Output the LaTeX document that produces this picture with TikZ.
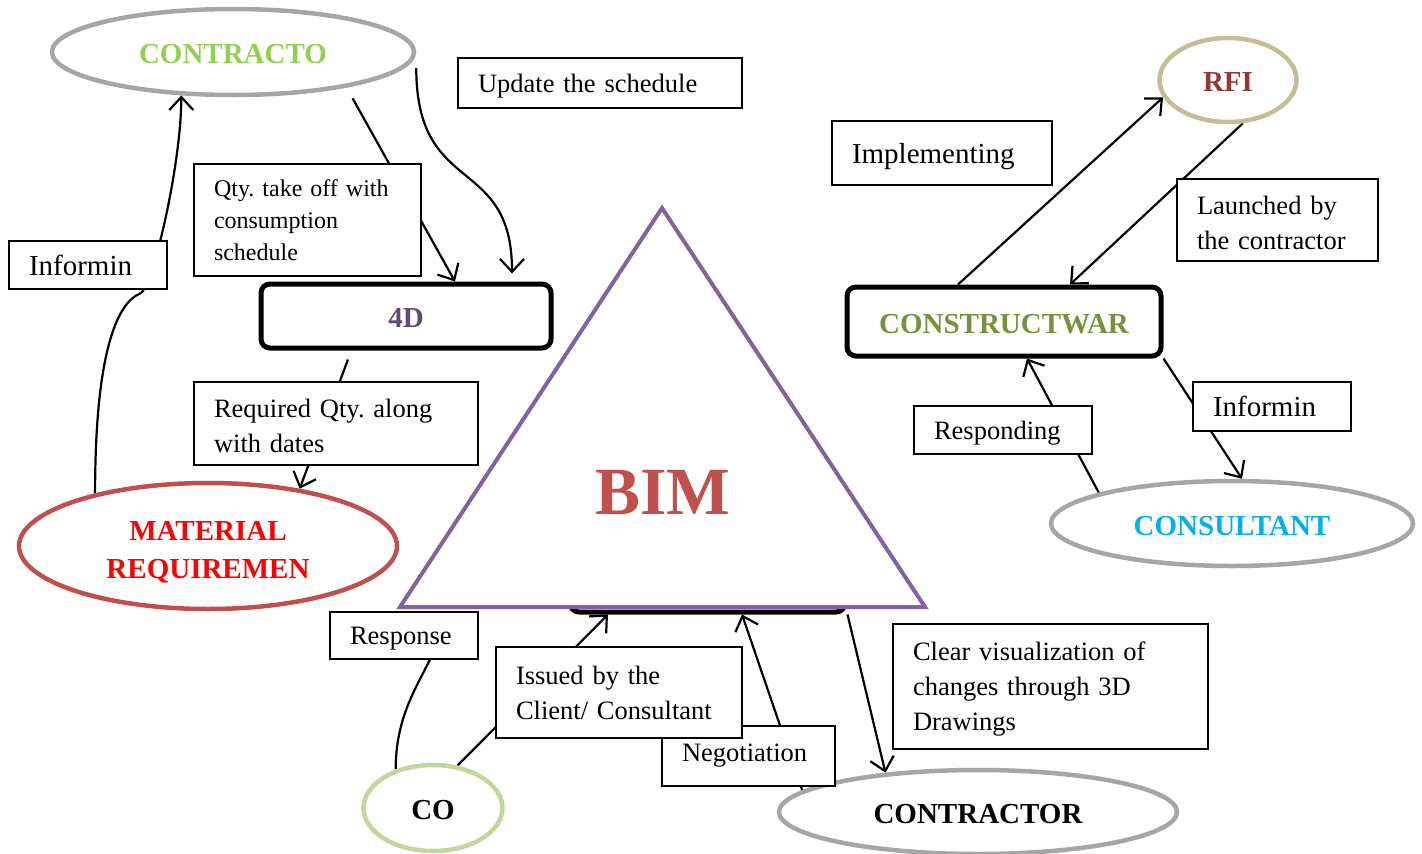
\documentclass[tikz,border=0pt]{standalone}
\usepackage{fontspec}
\setmainfont{Liberation Serif}
\usetikzlibrary{shapes.geometric,arrows.meta}
\pgfdeclarelayer{bg}
\pgfsetlayers{bg,main}
\definecolor{ellgray}{HTML}{A6A6A6}
\definecolor{ctrgreen}{HTML}{92D050}
\definecolor{matred}{HTML}{C0504D}
\definecolor{tripurple}{HTML}{8064A2}
\definecolor{fdpurple}{HTML}{5F497A}
\definecolor{cogreen}{HTML}{C3D69B}
\definecolor{rfiring}{HTML}{C4BD97}
\definecolor{rfitext}{HTML}{953734}
\definecolor{cwgreen}{HTML}{76923C}
\definecolor{conblue}{HTML}{00B0F0}
\newcommand\myLbl{\fontsize{26.5}{35}\selectfont}
\newcommand\myBig{\fontsize{29}{35}\selectfont}
\newcommand\mySmall{\fontsize{24}{32}\selectfont}
\newcommand\myBold{\bfseries\fontsize{29}{38}\selectfont}
\newcommand\myBim{\bfseries\fontsize{67.5}{70}\selectfont}
\newcommand\topstrut{\rule{0pt}{24pt}}
\frenchspacing
\begin{document}
\begin{tikzpicture}[x=1pt,y=-1pt,
  lbox/.style={draw, line width=1.2pt, fill=white, rectangle, inner xsep=20pt, inner ysep=0pt, align=left, font=\myLbl},
  onebox/.style={text depth=0pt},
  ell/.style={ellipse, draw, line width=4.5pt, inner sep=0pt, font=\myBold, align=center},
  onel/.style={text height=23pt, text depth=0pt},
  rbox/.style={rectangle, draw, line width=5pt, rounded corners=9pt, fill=white, inner sep=0pt, font=\myBold},
  conn/.style={line width=2.2pt, -{Straight Barb[length=13pt,width=24pt]}},
  plainline/.style={line width=2.2pt}]
\useasboundingbox (0,0) rectangle (1422,854);

% hidden box and triangle
\node[rbox, minimum width=275pt, minimum height=68pt] (hid) at (707.5,578) {};
\coordinate (ta) at (662,208);
\coordinate (tl) at (400,607);
\coordinate (tr) at (925,607);
\draw[line width=4pt, draw=tripurple, fill=white, line join=miter] (ta) -- (tl) -- (tr) -- cycle;
\node[font=\myBim, text=matred] (bim) at (663,492) {BIM};

% ellipses
\node[ell, onel, draw=ellgray, text=ctrgreen, minimum width=362pt, minimum height=86pt] (contracto) at (233,52) {CONTRACTO};
\node[ell, draw=matred, text=red, minimum width=378pt, minimum height=126pt] (material) at (208,546) {\rule{0pt}{32pt}MATERIAL\\REQUIREMEN};
\node[ell, onel, draw=cogreen, text=black, minimum width=139pt, minimum height=86pt] (co) at (433,808) {CO};
\node[ell, onel, draw=ellgray, text=black, minimum width=398pt, minimum height=84pt] (contractor) at (978,812) {CONTRACTOR};
\node[ell, onel, draw=rfiring, text=rfitext, minimum width=137pt, minimum height=84pt] (rfi) at (1228,80) {RFI};
\node[ell, onel, draw=ellgray, text=conblue, minimum width=362pt, minimum height=85pt] (consultant) at (1232,523.5) {CONSULTANT};

% rounded boxes
\node[rbox, onel, text=fdpurple, minimum width=290pt, minimum height=64pt] (fourD) at (406,316) {4D};
\node[rbox, onel, text=cwgreen, minimum width=314pt, minimum height=69pt] (cw) at (1004,321.5) {CONSTRUCTWAR};

% label boxes
\node[lbox, onebox, text width=244pt, minimum height=50pt] (update) at (600,83) {Update the schedule};
\node[lbox, font=\mySmall, text width=187pt, minimum height=112pt] (qty) at (307.5,220) {Qty. take off with\\consumption\\schedule};
\node[lbox, onebox, font=\myBig, text width=118pt, minimum height=48pt] (informL) at (88,265) {Informin};
\node[lbox, text width=244pt, minimum height=83pt] (req) at (336,423.5) {\topstrut Required Qty. along\\with dates};
\node[lbox, onebox, text width=108pt, minimum height=47pt] (response) at (404,635.5) {Response};
\node[lbox, text width=133pt, minimum height=60pt] (negot) at (748.5,756) {Negotiation};
\node[lbox, text width=206pt, minimum height=91pt] (issued) at (619,692.5) {Issued by the\\Client/ Consultant};
\node[lbox, text width=275pt, minimum height=125pt] (clear) at (1050.5,686.5) {\topstrut Clear visualization of\\changes through 3D\\Drawings};
\node[lbox, onebox, font=\myBig, text width=180pt, minimum height=64pt] (impl) at (942,153) {Implementing};
\node[lbox, text width=161pt, minimum height=82pt] (launched) at (1277.5,220) {\topstrut Launched by\\the contractor};
\node[lbox, onebox, text width=138pt, minimum height=48pt] (responding) at (1003,430) {Responding};
\node[lbox, onebox, font=\myBig, text width=118pt, minimum height=49pt] (informR) at (1272,406.5) {Informin};

% connectors
\begin{pgfonlayer}{bg}
\draw[conn] (material.155) .. controls +(0,-150) and +(-20,8) .. ([xshift=52pt,yshift=-4pt]informL.south) .. controls +(12,-3) and +(0,70) .. (contracto.220);
\draw[conn] ([yshift=-12pt]contracto.-16) -- ([xshift=49pt]fourD.north);
\draw[conn] ([yshift=-16pt]contracto.east) .. controls +(0,130) and +(0,-120) .. ([xshift=106pt,yshift=8pt]fourD.north);
\draw[conn] ([xshift=-58pt,yshift=-9pt]fourD.south) -- (material.32);
\draw[conn] (co.60) -- ([xshift=-99.5pt]hid.south);
\draw[plainline] (co.134) .. controls +(0,-50) and +(-15,30) .. ([xshift=26pt]response.south);
\draw[conn] (contractor.173) -- ([xshift=34.5pt]hid.south);
\draw[conn] ([xshift=140pt]hid.south) -- (contractor.157);
\draw[conn] ([xshift=-46pt]cw.north) -- (rfi.195);
\draw[conn] (rfi.289) -- ([xshift=66pt]cw.north);
\draw[conn] (cw.south east) -- ([xshift=10pt]consultant.north);
\draw[conn] (consultant.167) -- ([xshift=23pt]cw.south);
\end{pgfonlayer}
\end{tikzpicture}
\end{document}
